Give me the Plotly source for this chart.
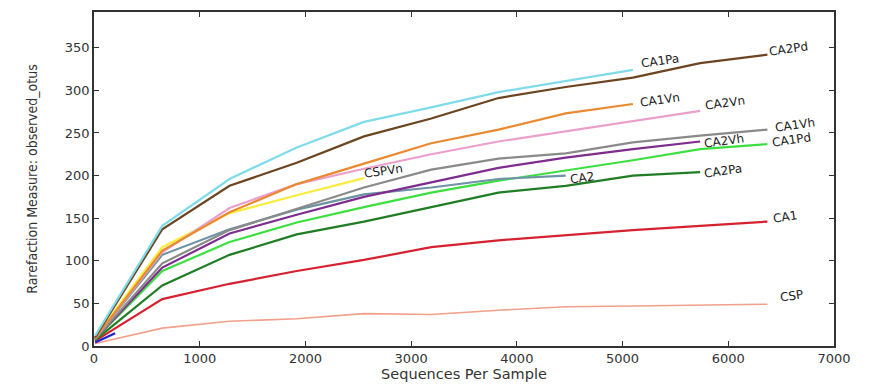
import plotly.graph_objects as go

depths = [10, 646, 1282, 1918, 2554, 3190, 3826, 4462, 5098, 5734, 6370]

names = ["CA1Pa", "CA2Pd", "CA1Vn", "CA2Vn", "CSPVn", "CA1Vh", "CA2Vh",
         "CA2", "CA1Pd", "CA2Pa", "CA1", "CSP"]

CA1Pa = [12, 141, 196, 233, 263, 280, 298, 311, 324]
CA2Pd = [10, 137, 188, 215, 246, 267, 291, 304, 315, 332, 342]
CA1Vn = [9, 112, 157, 190, 214, 238, 254, 273, 284]
CA2Vn = [9, 110, 162, 190, 208, 225, 240, 252, 264, 276]
CSPVn = [10, 116, 156, 177, 197]
CA1Vh = [8, 97, 136, 161, 186, 207, 220, 226, 239, 247, 254]
CA2Vh = [8, 92, 132, 154, 175, 192, 209, 221, 231, 240]
CA2 = [9, 107, 137, 160, 178, 186, 196, 200]
CA1Pd = [8, 88, 122, 145, 163, 180, 194, 206, 218, 231, 237]
CA2Pa = [7, 71, 107, 131, 146, 163, 180, 188, 200, 204]
CA1 = [6, 55, 73, 88, 101, 116, 124, 130, 136, 141, 146]
CSP = [3, 21, 29, 32, 38, 37, 42, 46, 47, 48, 49]

blue_x = [10, 200]
blue_y = [4, 15]

values = {"CA1Pa": CA1Pa, "CA2Pd": CA2Pd, "CA1Vn": CA1Vn, "CA2Vn": CA2Vn,
          "CSPVn": CSPVn, "CA1Vh": CA1Vh, "CA2Vh": CA2Vh, "CA2": CA2,
          "CA1Pd": CA1Pd, "CA2Pa": CA2Pa, "CA1": CA1, "CSP": CSP}

colors = {"CA1Pa": "#7fdbea", "CA2Pd": "#6b4420", "CA1Vn": "#ea8a30",
          "CA2Vn": "#eba0cc", "CSPVn": "#f8ec3c", "CA1Vh": "#8a8a8a",
          "CA2Vh": "#7e2c8e", "CA2": "#6d93a4", "CA1Pd": "#3ddf40",
          "CA2Pa": "#1f7d24", "CA1": "#d62230", "CSP": "#f1a08a"}

widths = {"CSP": 1.6}

# label offsets in pixels (x, y) from the last point of each series
label_shift = {"CA1Pa": (27, 9), "CA2Pd": (21, 6), "CA1Vn": (27, 4),
               "CA2Vn": (25, 8), "CSPVn": (20, 7), "CA1Vh": (28, 5),
               "CA2Vh": (24, 1), "CA2": (16, -2), "CA1Pd": (24, 4),
               "CA2Pa": (23, 1), "CA1": (18, 5), "CSP": (24, 8)}

fig = go.Figure()
draw_order = ["CSP", "CA1", "CA2Pa", "CA1Pd", "CA2", "CA2Vh", "CA1Vh",
              "CSPVn", "CA2Vn", "CA1Vn", "CA2Pd", "CA1Pa"]
for n in draw_order:
    ys = values[n]
    fig.add_trace(go.Scatter(x=depths[:len(ys)], y=ys, mode="lines", name=n,
                             line=dict(color=colors[n], width=widths.get(n, 2.2)),
                             showlegend=False))
fig.add_trace(go.Scatter(x=blue_x, y=blue_y, mode="lines",
                         line=dict(color="#2222cc", width=2.2), showlegend=False))

for n in names:
    ys = values[n]
    dx, dy = label_shift[n]
    fig.add_annotation(x=depths[len(ys) - 1], y=ys[-1], text=n, showarrow=False,
                       xanchor="center", yanchor="middle", xshift=dx, yshift=dy,
                       textangle=-8,
                       font=dict(family="DejaVu Sans", size=12, color="#222222"))

axis_common = dict(showgrid=False, zeroline=False, showline=True,
                   linecolor="#333333", linewidth=1.5, mirror="ticks",
                   ticks="inside", ticklen=5, tickcolor="#333333",
                   tickfont=dict(family="DejaVu Sans", size=13, color="#333333"))

fig.update_xaxes(range=[0, 7000], tickvals=[0, 1000, 2000, 3000, 4000, 5000, 6000, 7000],
                 title=dict(text="Sequences Per Sample", standoff=2,
                            font=dict(family="DejaVu Sans", size=14.5, color="#333333")),
                 **axis_common)
fig.update_yaxes(range=[0, 392], tickvals=[0, 50, 100, 150, 200, 250, 300, 350],
                 title=dict(text="Rarefaction Measure: observed_otus", standoff=24,
                            font=dict(family="DejaVu Sans Condensed", size=14, color="#333333")),
                 **axis_common)

fig.update_layout(width=877, height=380, margin=dict(l=86, r=51, t=2, b=42),
                  paper_bgcolor="white", plot_bgcolor="white")

fig.write_html("out.html")
